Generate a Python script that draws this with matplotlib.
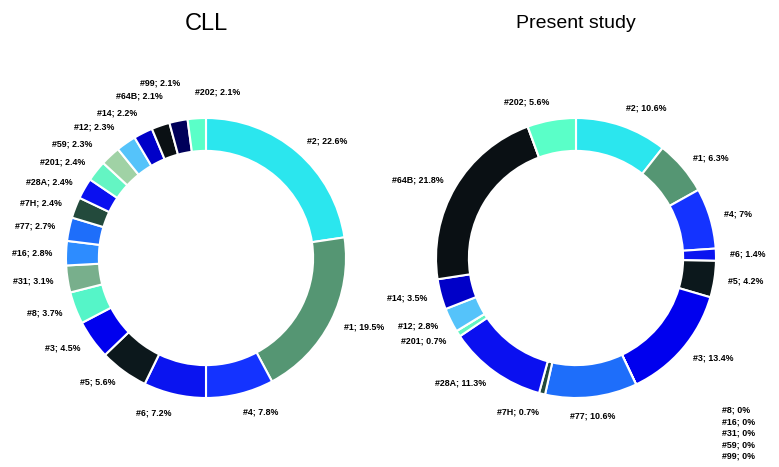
import numpy as np
import matplotlib.pyplot as plt

# Datos (porcentajes por subconjunto, sentido horario desde arriba)
labels = ["#2", "#1", "#4", "#6", "#5", "#3", "#8", "#31", "#16", "#77",
          "#7H", "#28A", "#201", "#59", "#12", "#14", "#64B", "#99", "#202"]
cll = [22.6, 19.5, 7.8, 7.2, 5.6, 4.5, 3.7, 3.1, 2.8, 2.7,
       2.4, 2.4, 2.4, 2.3, 2.3, 2.2, 2.1, 2.1, 2.1]

labels_present = ["#2", "#1", "#4", "#6", "#5", "#3", "#8", "#16", "#31", "#77",
                  "#7H", "#28A", "#201", "#59", "#12", "#14", "#64B", "#99", "#202"]
present = [10.6, 6.3, 7, 1.4, 4.2, 13.4, 0, 0, 0, 10.6,
           0.7, 11.3, 0.7, 0, 2.8, 3.5, 21.8, 0, 5.6]

colors = {
    "#2": "#2be6ee", "#1": "#559673", "#4": "#1433ff", "#6": "#0a14f0",
    "#5": "#0c181c", "#3": "#0000ee", "#8": "#55f5c8", "#31": "#78af8c",
    "#16": "#2d8cff", "#77": "#1e6efa", "#7H": "#234a3c", "#28A": "#0a10f0",
    "#201": "#64f5c3", "#59": "#a0d2a5", "#12": "#55c3fa", "#14": "#0000c8",
    "#64B": "#0a1014", "#99": "#00005a", "#202": "#5affc8",
}

W, H = 779, 467
R_PX = 140  # radio exterior en pixeles
label_font = dict(family=["Liberation Sans", "DejaVu Sans"], fontsize=6.4, fontweight="bold")

# ajustes manuales de etiquetas (pixeles) donde Excel las separa
nudges_cll = {"#202": (22, 8), "#99": (5, 20), "#64B": (7, 12), "#14": (0, 7),
              "#12": (-4, 5), "#59": (-8, 2)}


def fmt(v):
    return f"{v:g}%"


def donut(cx, cy, names, values, title, title_size, nudges):
    half = 200
    ax = fig.add_axes([(cx - half) / W, (H - cy - half) / H, 2 * half / W, 2 * half / H])
    lim = half / R_PX
    ax.pie(values, colors=[colors[n] for n in names], startangle=90, counterclock=False,
           radius=1, wedgeprops=dict(width=0.235, edgecolor="white", linewidth=1.5))
    ax.set_xlim(-lim, lim)
    ax.set_ylim(-lim, lim)
    ax.set_aspect("equal")
    ax.axis("off")

    total = sum(values)
    cum = 0
    zeros = []
    for n, v in zip(names, values):
        if v == 0:
            zeros.append(n)
            continue
        mid = (cum + v / 2) / total
        cum += v
        theta = np.deg2rad(90 - 360 * mid)
        s, c = np.cos(theta), np.sin(theta)  # s: lado, c: arriba/abajo
        r = 1.1
        ha = "left" if s > 0.15 else ("right" if s < -0.15 else "center")
        va = "bottom" if c > 0.9 else ("top" if c < -0.9 else "center")
        dx, dy = nudges.get(n, (0, 0))
        ax.annotate(f"{n}; {fmt(v)}", xy=(r * s, r * c), xytext=(dx, dy),
                    textcoords="offset pixels", ha=ha, va=va, annotation_clip=False,
                    **label_font)

    # etiquetas con valor cero apiladas abajo a la derecha
    for i, n in enumerate(zeros):
        x = (722 - cx) / R_PX
        y = -(410 + i * 11.6 - cy) / R_PX
        ax.text(x, y, f"{n}; 0%", ha="left", va="center", clip_on=False, **label_font)

    fig.text(cx / W, 1 - 24 / H, title, ha="center", va="center",
             fontsize=title_size, family=["Liberation Sans", "DejaVu Sans"])


fig = plt.figure(figsize=(W / 100, H / 100), dpi=100)
donut(206, 258, labels, cll, "CLL", 17, nudges_cll)
donut(576, 258, labels_present, present, "Present study", 14, {})
fig.savefig("out.png", dpi=100, facecolor="white")
